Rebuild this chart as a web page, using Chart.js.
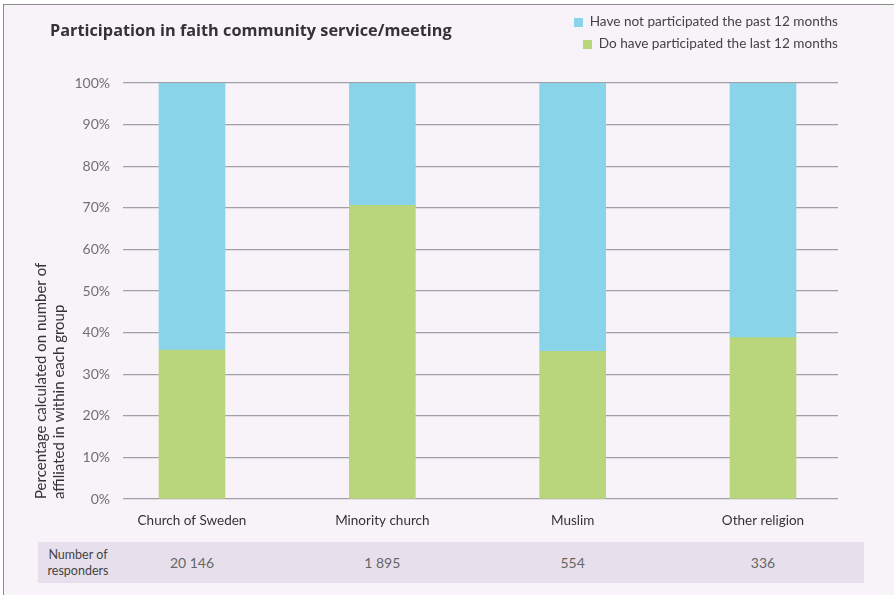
<!DOCTYPE html>
<html lang="en">
<head>
  <meta charset="UTF-8">
  <title>Participation in faith community service/meeting</title>
  <script src="https://cdn.jsdelivr.net/npm/chart.js"></script>
  <style>
    html, body {
      margin: 0;
      padding: 0;
      background: #ffffff;
    }
    .frame {
      position: relative;
      width: 894px;
      height: 595px;
      overflow: hidden;
      font-family: 'Lato', 'Open Sans', sans-serif;
    }
    .panel {
      position: absolute;
      left: 3px;
      top: 4px;
      width: 900px;
      height: 600px;
      background: #f7f3f9;
      border: 1.5px solid #8d8d8d;
    }
    #chart {
      position: absolute;
      left: 0;
      top: 0;
    }
    .title {
      position: absolute;
      left: 50px;
      top: 19px;
      font-family: 'Open Sans', sans-serif;
      font-size: 16.3px;
      font-weight: 700;
      color: #333;
    }
    .legend {
      position: absolute;
      right: 56px;
      top: 12px;
      text-align: right;
      font-size: 13.6px;
      color: #444;
    }
    .legend div {
      height: 22px;
      line-height: 19px;
    }
    .legend span.sw {
      display: inline-block;
      width: 9px;
      height: 9px;
      margin-right: 7px;
      vertical-align: -0.5px;
    }
    .band {
      position: absolute;
      left: 38px;
      top: 542px;
      width: 826px;
      height: 41px;
      background: #e7e0ec;
    }
    .band div {
      position: absolute;
      top: 0;
      height: 41px;
      display: flex;
      align-items: center;
      justify-content: center;
      text-align: center;
      color: #666;
    }
    .band .head {
      left: 0;
      width: 80px;
      font-size: 12.5px;
      line-height: 16px;
      color: #444;
    }
    .band .num {
      width: 120px;
      font-size: 14px;
    }
  </style>
</head>
<body>
  <div class="frame">
    <div class="panel"></div>
    <canvas id="chart" width="894" height="595"></canvas>
    <div class="title">Participation in faith community service/meeting</div>
    <div class="legend" id="legend"></div>
    <div class="band" id="band">
      <div class="head">Number of<br>responders</div>
    </div>
  </div>

  <script>
    const categories = ['Church of Sweden', 'Minority church', 'Muslim', 'Other religion'];
    const participated = [35.8, 70.6, 35.5, 38.8];
    const notParticipated = [64.2, 29.4, 64.5, 61.2];
    const responders = ['20 146', '1 895', '554', '336'];
    const yTicks = [0, 10, 20, 30, 40, 50, 60, 70, 80, 90, 100];

    const blue = '#89d4e9';
    const green = '#b9d67c';

    // legend (top series first, like the original)
    const legend = document.getElementById('legend');
    [['Have not participated the past 12 months', blue],
     ['Do have participated the last 12 months', green]].forEach(function(item) {
      const row = document.createElement('div');
      row.innerHTML = '<span class="sw" style="background:' + item[1] + '"></span>' + item[0];
      legend.appendChild(row);
    });

    const ctx = document.getElementById('chart').getContext('2d');
    const chart = new Chart(ctx, {
      type: 'bar',
      data: {
        datasets: [{
          label: 'Do have participated the last 12 months',
          data: categories.map((c, i) => ({ x: i, y: participated[i] })),
          backgroundColor: green
        }, {
          label: 'Have not participated the past 12 months',
          data: categories.map((c, i) => ({ x: i, y: notParticipated[i] })),
          backgroundColor: blue
        }]
      },
      options: {
        responsive: false,
        animation: false,
        barThickness: 66,
        layout: {
          padding: { left: 30, right: 56, top: 83, bottom: 56 }
        },
        plugins: {
          legend: { display: false },
          tooltip: { enabled: false }
        },
        scales: {
          x: {
            type: 'linear',
            stacked: true,
            offset: false,
            min: -0.3625,
            max: 3.394,
            grid: { display: false },
            border: { display: false },
            afterBuildTicks: function(scale) {
              scale.ticks = categories.map((c, i) => ({ value: i }));
            },
            afterFit: function(scale) {
              scale.height = 40;
            },
            ticks: {
              autoSkip: false,
              maxRotation: 0,
              padding: 6,
              color: '#333',
              font: { family: 'Lato', size: 13.5 },
              callback: function(v) { return categories[v]; }
            }
          },
          y: {
            stacked: true,
            min: 0,
            max: 100,
            afterBuildTicks: function(scale) {
              scale.ticks = yTicks.map(v => ({ value: v }));
            },
            afterFit: function(scale) {
              scale.width = 93;
            },
            grid: {
              color: '#a09ea6',
              lineWidth: 1.3,
              drawTicks: false
            },
            border: { display: false },
            ticks: {
              padding: 13,
              color: '#707070',
              font: { family: 'Lato', size: 14 },
              callback: function(v) { return v + '%'; }
            },
            title: {
              display: true,
              align: 'start',
              text: ['Percentage calculated on number of', 'affiliated in within each group'],
              color: '#333',
              font: { family: 'Lato', size: 15, lineHeight: 1.15 },
              padding: { top: 3, bottom: 0 }
            }
          }
        }
      }
    });

    // responder counts under each bar
    const band = document.getElementById('band');
    const xs = chart.scales.x;
    responders.forEach(function(n, i) {
      const cell = document.createElement('div');
      cell.className = 'num';
      cell.style.left = (xs.getPixelForValue(i) - 38 - 60) + 'px';
      cell.textContent = n;
      band.appendChild(cell);
    });
  </script>
</body>
</html>
